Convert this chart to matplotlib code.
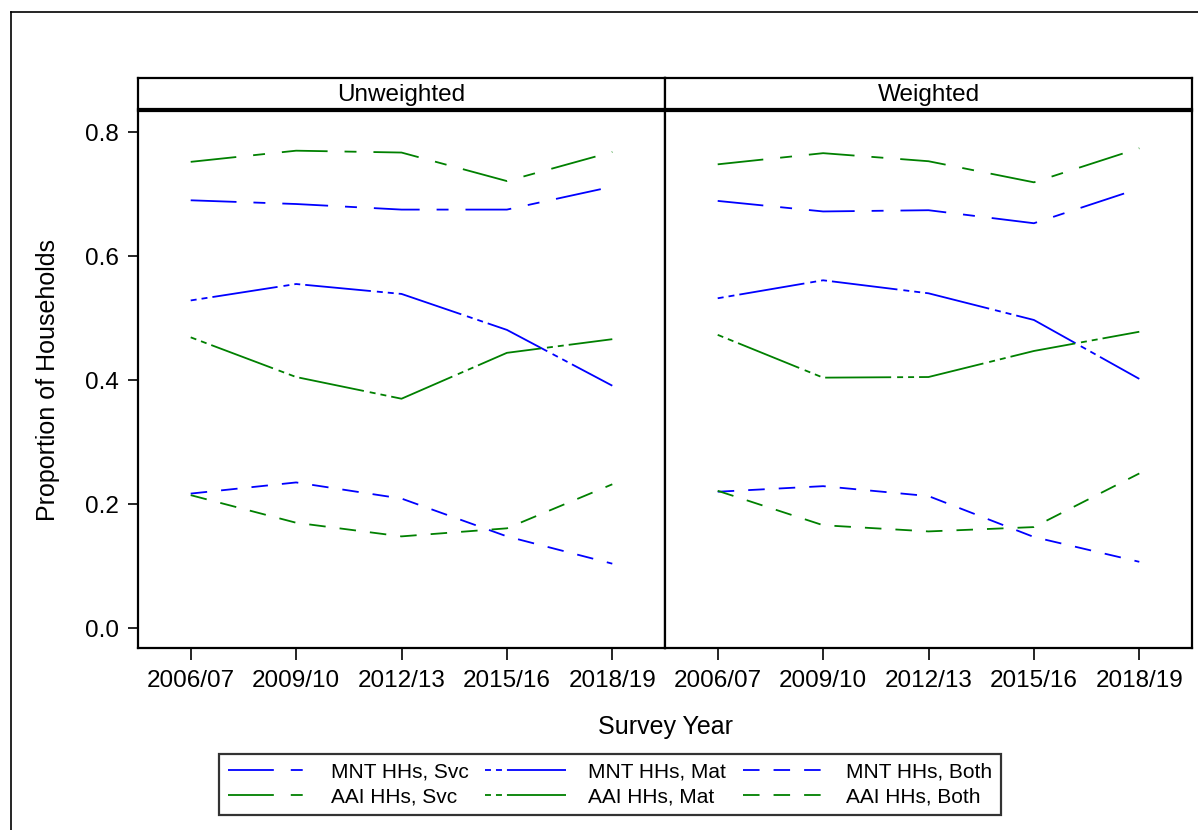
import matplotlib
matplotlib.use("Agg")
import matplotlib.pyplot as plt
from matplotlib.lines import Line2D

plt.rcParams['font.family'] = ['Liberation Sans', 'DejaVu Sans']
plt.rcParams['lines.scale_dashes'] = False

years = ['2006/07', '2009/10', '2012/13', '2015/16', '2018/19']
panels = ['Unweighted', 'Weighted']

# Unweighted
unw_mnt_svc = [0.690, 0.684, 0.675, 0.675, 0.712]
unw_mnt_mat = [0.5285, 0.555, 0.539, 0.481, 0.391]
unw_mnt_both = [0.217, 0.235, 0.209, 0.148, 0.104]
unw_aai_svc = [0.752, 0.770, 0.767, 0.721, 0.768]
unw_aai_mat = [0.469, 0.405, 0.370, 0.444, 0.466]
unw_aai_both = [0.2145, 0.170, 0.148, 0.161, 0.232]

# Weighted
w_mnt_svc = [0.689, 0.672, 0.674, 0.653, 0.709]
w_mnt_mat = [0.532, 0.561, 0.540, 0.497, 0.402]
w_mnt_both = [0.220, 0.229, 0.213, 0.147, 0.107]
w_aai_svc = [0.748, 0.766, 0.753, 0.719, 0.774]
w_aai_mat = [0.473, 0.404, 0.405, 0.447, 0.478]
w_aai_both = [0.2215, 0.166, 0.156, 0.163, 0.2495]

series_labels = ['MNT HHs, Svc', 'MNT HHs, Mat', 'MNT HHs, Both',
                 'AAI HHs, Svc', 'AAI HHs, Mat', 'AAI HHs, Both']

BLUE = '#0000FF'
GREEN = '#008000'
DASH_SVC = (0, (33, 12.2, 8.6, 12.2))
DASH_MAT = (0, (4.3, 3.6, 4.3, 3.6, 47.5, 4.3))
DASH_BOTH = (0, (11.9, 10.1))
LW = 1.3

styles = [(BLUE, DASH_SVC), (BLUE, DASH_MAT), (BLUE, DASH_BOTH),
          (GREEN, DASH_SVC), (GREEN, DASH_MAT), (GREEN, DASH_BOTH)]

data = {
    'Unweighted': [unw_mnt_svc, unw_mnt_mat, unw_mnt_both, unw_aai_svc, unw_aai_mat, unw_aai_both],
    'Weighted': [w_mnt_svc, w_mnt_mat, w_mnt_both, w_aai_svc, w_aai_mat, w_aai_both],
}

W, H = 1198, 830
fig = plt.figure(figsize=(W / 100, H / 100), dpi=100)

def fx(px):
    return px / W

def fy(py):
    return 1 - py / H

ax_top, ax_bot = 111, 648
strip_top, strip_bot = 78, 109
lefts = [138, 665]
width = 527

x = list(range(len(years)))
for i, name in enumerate(panels):
    ax = fig.add_axes([fx(lefts[i]), fy(ax_bot), width / W, (ax_bot - ax_top) / H])
    for vals, (c, ls) in zip(data[name], styles):
        ax.plot(x, vals, color=c, linestyle=ls, lw=LW)
    ax.set_xlim(-0.5, 4.5)
    ax.set_ylim(-0.032, 0.834)
    ax.set_xticks(x)
    ax.set_xticklabels(years, fontsize=17.5)
    ax.tick_params(axis='x', length=8.5, width=1.2, pad=7, direction='out')
    for s in ax.spines.values():
        s.set_linewidth(1.6)
    if i == 0:
        ax.set_yticks([0.0, 0.2, 0.4, 0.6, 0.8])
        ax.set_yticklabels(['0.0', '0.2', '0.4', '0.6', '0.8'], fontsize=17.5)
        ax.tick_params(axis='y', length=7.2, width=1.2, pad=6.5)
    else:
        ax.set_yticks([])
    # strip
    sax = fig.add_axes([fx(lefts[i]), fy(strip_bot), width / W, (strip_bot - strip_top) / H])
    sax.set_xticks([])
    sax.set_yticks([])
    for s in sax.spines.values():
        s.set_linewidth(1.6)
    sax.text(0.5, 0.45, name, ha='center', va='center', fontsize=17.5, transform=sax.transAxes)

fig.text(fx(665), fy(727), 'Survey Year', ha='center', va='center', fontsize=18)
fig.text(fx(48), fy(380), 'Proportion of Households', ha='center', va='center',
         rotation=90, fontsize=18)

# figure border (top and left visible)
fig.add_artist(Line2D([fx(11), 1.0], [fy(12), fy(12)], color='black', lw=1.2,
                      transform=fig.transFigure))
fig.add_artist(Line2D([fx(11), fx(11)], [fy(12), 0.0], color='black', lw=1.2,
                      transform=fig.transFigure))

# legend
handles = [Line2D([0], [0], color=c, linestyle=ls, lw=LW) for c, ls in styles]
order = [0, 3, 1, 4, 2, 5]
leg = fig.legend([handles[k] for k in order], [series_labels[k] for k in order],
                 ncol=3, loc='center', bbox_to_anchor=(fx(610), fy(784.5)),
                 bbox_transform=fig.transFigure, fontsize=15, frameon=True,
                 fancybox=False, edgecolor='black', handlelength=3.85,
                 handletextpad=1.1, columnspacing=0.8, labelspacing=0.3,
                 borderpad=0.4, borderaxespad=0)
leg.get_frame().set_linewidth(1.6)

fig.savefig('out.png', dpi=100)
